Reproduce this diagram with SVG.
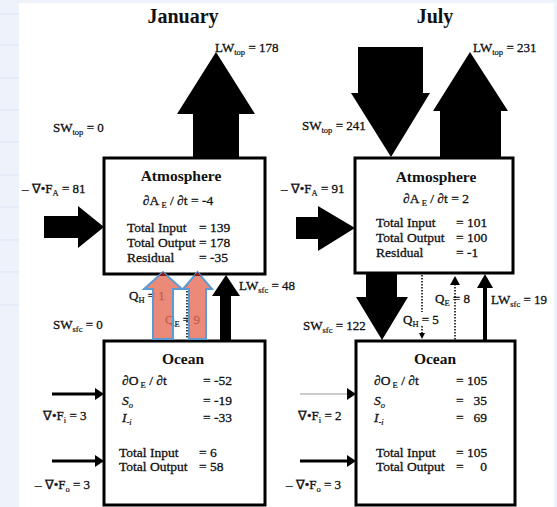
<svg xmlns="http://www.w3.org/2000/svg" width="557" height="507" viewBox="0 0 557 507">
<style>
text{font-family:"Liberation Serif","Times New Roman",serif;fill:#111;font-size:13.5px;stroke:#111;stroke-width:0.3}
.t{font-size:20px;font-weight:bold;text-anchor:middle;stroke:none}
.h{font-size:15.5px;font-weight:bold;text-anchor:middle;stroke:none}
.s{font-size:13px}
.sub{font-size:8.5px;stroke-width:0.2}
.box{fill:#fff;stroke:#000;stroke-width:3}
.blk{fill:#000}
.red{fill:#e8705c;fill-opacity:0.82;stroke:#5b9bd5;stroke-width:2}
.dot{stroke:#000;stroke-width:1.5;stroke-dasharray:1.5 1.5;fill:none}
.r{text-anchor:end}
</style>
<rect x="0" y="0" width="557" height="507" fill="#eef2fa"/>
<g stroke="#dde5f3" stroke-width="1">
<line x1="0" y1="14" x2="19" y2="14"/><line x1="0" y1="45" x2="19" y2="45"/><line x1="0" y1="78" x2="19" y2="78"/><line x1="0" y1="110" x2="19" y2="110"/><line x1="0" y1="142" x2="19" y2="142"/><line x1="0" y1="175" x2="19" y2="175"/><line x1="0" y1="207" x2="19" y2="207"/><line x1="0" y1="240" x2="19" y2="240"/><line x1="0" y1="272" x2="19" y2="272"/><line x1="0" y1="305" x2="19" y2="305"/>
</g>
<rect x="19" y="3" width="535" height="504" fill="#fff"/>

<text class="t" x="183" y="23">January</text>
<text class="t" x="435" y="23">July</text>

<g id="connectors">
<path class="blk" d="M193,157 L193,114 L177,114 L216,52 L255,114 L239,114 L239,157 Z"/>
<path class="blk" d="M44,216 L78,216 L78,206 L104,227 L78,248 L78,238 L44,238 Z"/>
<line class="dot" x1="187" y1="285" x2="187" y2="339"/>
<path class="blk" d="M220,340 L220,296 L212,296 L226,275 L240,296 L231,296 L231,340 Z"/>
<path d="M52,394 L97,394" stroke="#000" stroke-width="3"/>
<polygon class="blk" points="95,388 104,394 95,400"/>
<path d="M52,461 L97,461" stroke="#000" stroke-width="3"/>
<polygon class="blk" points="95,455 104,461 95,467"/>

<path class="blk" d="M358,47 L423,47 L423,93 L430,93 L391,157 L351,93 L358,93 Z"/>
<path class="blk" d="M440,157 L440,111 L433,111 L470,52 L508,111 L501,111 L501,157 Z"/>
<path class="blk" d="M296,217 L318,217 L318,206 L355,228 L318,251 L318,239 L296,239 Z"/>
<path class="blk" d="M366,274 L397,274 L397,297 L408,297 L382,340 L356,297 L366,297 Z"/>
<line class="dot" x1="422" y1="275" x2="422" y2="334"/>
<polygon class="blk" points="419,333 425,333 422,339"/>
<line class="dot" x1="455" y1="284" x2="455" y2="340"/>
<polygon class="blk" points="450,285 460,285 455,276"/>
<line x1="485" y1="340" x2="485" y2="285" stroke="#000" stroke-width="4"/>
<polygon class="blk" points="477,288 485,274 493,288"/>
<path d="M300,394 L349,394" stroke="#ccc" stroke-width="2"/>
<polygon class="blk" points="347,388 356,394 347,400"/>
<path d="M300,461 L349,461" stroke="#000" stroke-width="3"/>
<polygon class="blk" points="347,455 356,461 347,467"/>
</g>

<g id="labels">
<text class="s" x="215" y="52">LW<tspan class="sub" dy="3">top</tspan><tspan dy="-3"> = 178</tspan></text>
<text class="s" x="53" y="132">SW<tspan class="sub" dy="3">top</tspan><tspan dy="-3"> = 0</tspan></text>
<text class="s" x="22" y="193">– ∇•F<tspan class="sub" dy="3">A</tspan><tspan dy="-3"> = 81</tspan></text>
<text class="s" x="129" y="300">Q<tspan class="sub" dy="3">H</tspan><tspan dy="-3"> = 1</tspan></text>
<text class="s" x="165" y="324">Q<tspan class="sub" dy="3">E</tspan><tspan dy="-3"> = 9</tspan></text>
<text class="s" x="239" y="290">LW<tspan class="sub" dy="3">sfc</tspan><tspan dy="-3"> = 48</tspan></text>
<text class="s" x="53" y="329">SW<tspan class="sub" dy="3">sfc</tspan><tspan dy="-3"> = 0</tspan></text>
<text class="s" x="43" y="420">∇•F<tspan class="sub" dy="3">i</tspan><tspan dy="-3"> = 3</tspan></text>
<text class="s" x="35" y="489">– ∇•F<tspan class="sub" dy="3">o</tspan><tspan dy="-3"> = 3</tspan></text>

<text class="s" x="473" y="52">LW<tspan class="sub" dy="3">top</tspan><tspan dy="-3"> = 231</tspan></text>
<text class="s" x="302" y="130">SW<tspan class="sub" dy="3">top</tspan><tspan dy="-3"> = 241</tspan></text>
<text class="s" x="281" y="193">– ∇•F<tspan class="sub" dy="3">A</tspan><tspan dy="-3"> = 91</tspan></text>
<rect x="434" y="291" width="18" height="14" fill="#fff"/>
<text class="s" x="435" y="303">Q<tspan class="sub" dy="3">E</tspan><tspan dy="-3"> = 8</tspan></text>
<rect x="416" y="312" width="12" height="14" fill="#fff"/>
<text class="s" x="403" y="324">Q<tspan class="sub" dy="3">H</tspan><tspan dy="-3"> = 5</tspan></text>
<text class="s" x="491" y="304">LW<tspan class="sub" dy="3">sfc</tspan><tspan dy="-3"> = 19</tspan></text>
<text class="s" x="303" y="330">SW<tspan class="sub" dy="3">sfc</tspan><tspan dy="-3"> = 122</tspan></text>
<text class="s" x="298" y="420">∇•F<tspan class="sub" dy="3">i</tspan><tspan dy="-3"> = 2</tspan></text>
<text class="s" x="286" y="489">– ∇•F<tspan class="sub" dy="3">o</tspan><tspan dy="-3"> = 3</tspan></text>
</g>

<g id="atm-jan">
<rect class="box" x="104" y="158" width="161" height="116"/>
<text class="h" x="181" y="181">Atmosphere</text>
<text x="178" y="205" text-anchor="middle">∂A<tspan class="sub" dy="3"> E</tspan><tspan dy="-3"> / ∂t = -4</tspan></text>
<text x="127" y="232">Total Input</text><text x="199" y="232">= 139</text>
<text x="127" y="247">Total Output</text><text x="199" y="247">= 178</text>
<text x="127" y="262">Residual</text><text x="199" y="262">= -35</text>
</g>

<g id="ocean-jan">
<rect class="box" x="104" y="341" width="161" height="164"/>
<text class="h" x="183" y="364">Ocean</text>
<text x="122" y="385">∂O<tspan class="sub" dy="3"> E</tspan><tspan dy="-3"> / ∂t</tspan></text>
<text x="203" y="385">= -52</text>
<text x="122" y="405" font-style="italic">S<tspan class="sub" dy="3">o</tspan></text>
<text x="203" y="405">= -19</text>
<text x="122" y="422" font-style="italic">I<tspan class="sub" dy="3">-i</tspan></text>
<text x="203" y="422">= -33</text>
<text x="119" y="457">Total Input</text><text x="199" y="457">= 6</text>
<text x="119" y="471">Total Output</text><text x="199" y="471">= 58</text>
</g>

<g id="atm-jul">
<rect class="box" x="355" y="158" width="158" height="115"/>
<text class="h" x="436" y="182">Atmosphere</text>
<text x="436" y="203" text-anchor="middle">∂A<tspan class="sub" dy="3"> E</tspan><tspan dy="-3"> / ∂t = 2</tspan></text>
<text x="376" y="227">Total Input</text><text x="456" y="227">= 101</text>
<text x="376" y="242">Total Output</text><text x="456" y="242">= 100</text>
<text x="376" y="257">Residual</text><text x="456" y="257">= -1</text>
</g>

<g id="ocean-jul">
<rect class="box" x="356" y="341" width="159" height="164"/>
<text class="h" x="435" y="364">Ocean</text>
<text x="374" y="385">∂O<tspan class="sub" dy="3"> E</tspan><tspan dy="-3"> / ∂t</tspan></text>
<text x="456" y="385">= 105</text>
<text x="374" y="405" font-style="italic">S<tspan class="sub" dy="3">o</tspan></text>
<text x="456" y="405">=</text><text class="r" x="487" y="405">35</text>
<text x="374" y="422" font-style="italic">I<tspan class="sub" dy="3">-i</tspan></text>
<text x="456" y="422">=</text><text class="r" x="487" y="422">69</text>
<text x="376" y="457">Total Input</text><text x="456" y="457">= 105</text>
<text x="376" y="471">Total Output</text><text x="456" y="471">=</text><text class="r" x="487" y="471">0</text>
</g>

<g id="q-arrows-jan">
<path class="red" d="M153,339 L153,289 L144,289 L163,272 L182,289 L173,289 L173,339 Z"/>
<path class="red" d="M189,339 L189,289 L183,289 L197.5,272 L212,289 L206,289 L206,339 Z"/>
<polygon fill="#8a1c10" points="159,276 163,272 167,276"/>
<polygon fill="#8a1c10" points="194,276 197.5,272 201,276"/>
</g>
</svg>
